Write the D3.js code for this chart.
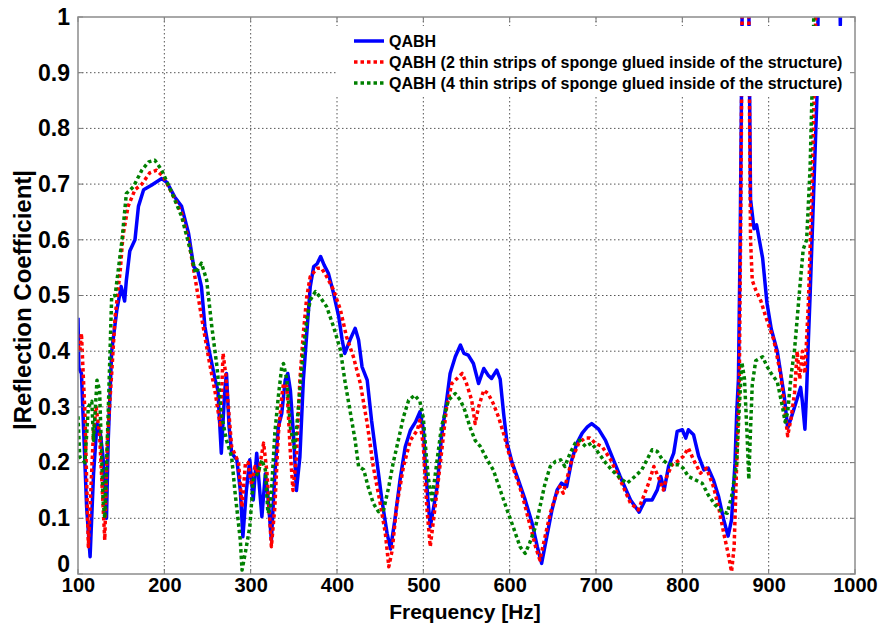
<!DOCTYPE html>
<html>
<head>
<meta charset="utf-8">
<script src="https://cdnjs.cloudflare.com/ajax/libs/d3/7.8.5/d3.min.js"></script>
<style>
  body { margin: 0; background: #fff; }
  text { font-family: "Liberation Sans", Arial, sans-serif; font-weight: bold; }
</style>
</head>
<body>
<div class="chart"></div>
<script>

// QABH (blue, solid)
var freqQabh = [100,101,104,107,110,114,118,122,126,129,133,135,139,145,150,154,156,160,166,170,176,185,197,203,212,220,228,234,239,243,247,251,259,262,266,270,272,275,278,284,288,291,295,299,303,307,311,313,317,320,324,328,332,336,340,343,346,350,353,357,361,365,369,373,377,381,385,390,396,402,406,409,415,421,425,429,435,440,446,452,458,462,467,473,479,485,491,496,500,502,505,508,512,516,521,527,531,537,543,547,552,558,564,570,575,579,585,589,593,597,603,610,618,626,632,637,643,649,655,660,666,672,678,684,690,695,703,711,717,728,740,750,757,765,771,775,779,784,790,794,800,804,807,813,819,825,830,836,842,848,853,857,861,863,865,867,869,870,876,878,879,883,886,888,893,898,903,910,918,922,926,930,937,939,942,944,946,948,952,956,958,962,980,983,985,1000];
var magQabh = [0.46,0.37,0.36,0.24,0.12,0.031,0.18,0.27,0.25,0.21,0.10,0.24,0.40,0.474,0.516,0.49,0.527,0.58,0.60,0.66,0.69,0.698,0.71,0.703,0.677,0.66,0.612,0.552,0.543,0.516,0.444,0.408,0.348,0.33,0.217,0.33,0.36,0.264,0.217,0.205,0.15,0.067,0.15,0.205,0.133,0.217,0.14,0.103,0.18,0.14,0.061,0.18,0.264,0.288,0.348,0.36,0.33,0.24,0.15,0.21,0.348,0.432,0.516,0.552,0.557,0.57,0.555,0.54,0.504,0.462,0.42,0.396,0.42,0.441,0.42,0.372,0.348,0.276,0.205,0.133,0.073,0.045,0.097,0.169,0.228,0.258,0.273,0.291,0.26,0.205,0.14,0.085,0.12,0.157,0.246,0.312,0.36,0.39,0.411,0.396,0.393,0.378,0.342,0.369,0.357,0.351,0.366,0.35,0.288,0.235,0.199,0.169,0.133,0.091,0.049,0.019,0.067,0.115,0.151,0.163,0.157,0.205,0.235,0.253,0.264,0.27,0.26,0.24,0.217,0.175,0.133,0.111,0.133,0.133,0.151,0.175,0.151,0.193,0.217,0.256,0.259,0.244,0.259,0.25,0.211,0.187,0.19,0.169,0.139,0.097,0.068,0.097,0.199,0.29,0.35,0.6,0.95,1.2,1.2,0.85,0.673,0.62,0.627,0.61,0.567,0.487,0.44,0.40,0.32,0.262,0.28,0.30,0.335,0.31,0.26,0.33,0.42,0.5,0.68,0.86,1.1,1.3,1.3,0.985,1.3,1.3];

// 2 thin strips of sponge (red, dotted)
var freqTwo = [100,102,104,106,108,112,114,118,121,125,131,134,139,143,149,152,158,166,174,183,191,199,209,220,228,236,243,251,259,265,268,271,278,286,290,294,297,301,305,309,315,319,324,328,332,336,338,342,346,349,353,357,361,365,369,377,382,388,396,404,411,419,427,435,442,450,456,460,464,469,477,485,493,496,500,504,508,512,516,521,527,533,539,545,550,556,560,564,570,575,581,587,593,599,606,614,622,630,635,641,647,653,658,662,666,672,680,687,693,699,707,717,728,740,749,755,761,767,772,778,782,788,794,801,807,813,821,828,836,842,848,853,857,860,863,866,868,870,876,878,879,881,885,891,897,906,914,922,926,930,933,936,939,942,946,950,954,956,1000];
var magTwo = [0.41,0.40,0.432,0.36,0.29,0.049,0.12,0.258,0.30,0.25,0.061,0.24,0.36,0.462,0.546,0.606,0.66,0.69,0.70,0.72,0.725,0.713,0.683,0.648,0.60,0.528,0.462,0.39,0.325,0.264,0.396,0.36,0.228,0.20,0.12,0.20,0.20,0.16,0.193,0.18,0.235,0.18,0.049,0.12,0.25,0.318,0.342,0.336,0.217,0.15,0.21,0.348,0.432,0.498,0.534,0.549,0.549,0.534,0.51,0.474,0.426,0.39,0.342,0.27,0.193,0.127,0.073,0.013,0.043,0.12,0.193,0.24,0.258,0.276,0.23,0.12,0.049,0.10,0.15,0.217,0.30,0.342,0.351,0.36,0.342,0.312,0.27,0.30,0.33,0.324,0.306,0.282,0.252,0.217,0.181,0.145,0.097,0.049,0.025,0.067,0.109,0.139,0.157,0.145,0.169,0.205,0.235,0.244,0.244,0.235,0.229,0.205,0.169,0.127,0.115,0.139,0.163,0.193,0.175,0.151,0.175,0.196,0.202,0.211,0.226,0.205,0.181,0.19,0.157,0.12,0.073,0.037,0.004,0.049,0.2,0.35,0.7,1.2,1.2,0.8,0.6,0.527,0.51,0.49,0.46,0.42,0.357,0.248,0.28,0.325,0.40,0.35,0.40,0.36,0.487,0.68,0.95,1.2,1.2];

// 4 thin strips of sponge (green, dotted)
var freqFour = [100,102,108,112,116,118,122,125,129,131,135,139,143,151,156,164,174,182,189,197,209,220,230,236,243,249,255,261,266,272,278,282,288,290,294,299,303,308,313,317,320,323,328,332,336,338,342,346,351,357,361,365,369,375,380,388,396,404,409,415,421,425,431,436,442,448,454,460,465,471,477,483,490,496,500,503,506,510,516,521,529,537,543,548,554,560,566,574,581,589,597,604,612,618,623,630,635,641,647,653,659,664,670,676,681,688,695,703,711,718,728,736,745,753,759,765,771,777,782,788,796,801,807,815,823,830,838,846,852,857,863,866,869,872,875,877,879,881,885,893,898,903,910,916,919,922,926,930,936,940,944,948,950,952,954,1000];
var magFour = [0.283,0.21,0.20,0.30,0.31,0.24,0.348,0.33,0.133,0.10,0.29,0.498,0.50,0.60,0.683,0.695,0.725,0.74,0.743,0.725,0.683,0.642,0.582,0.54,0.558,0.528,0.444,0.372,0.288,0.24,0.21,0.145,0.061,0.007,0.04,0.085,0.169,0.18,0.205,0.187,0.109,0.12,0.253,0.318,0.372,0.378,0.348,0.264,0.222,0.33,0.402,0.456,0.492,0.507,0.498,0.48,0.444,0.402,0.348,0.294,0.24,0.193,0.187,0.157,0.127,0.112,0.115,0.157,0.199,0.24,0.282,0.312,0.321,0.31,0.28,0.22,0.17,0.133,0.205,0.264,0.312,0.324,0.312,0.294,0.264,0.24,0.229,0.205,0.187,0.151,0.115,0.085,0.049,0.037,0.055,0.085,0.12,0.163,0.193,0.202,0.205,0.193,0.217,0.235,0.24,0.229,0.235,0.217,0.2,0.187,0.172,0.163,0.175,0.187,0.205,0.223,0.22,0.205,0.199,0.196,0.196,0.19,0.175,0.169,0.163,0.142,0.124,0.112,0.109,0.139,0.199,0.3,0.38,0.35,0.25,0.17,0.26,0.34,0.383,0.39,0.373,0.36,0.345,0.30,0.273,0.29,0.357,0.403,0.513,0.583,0.6,0.73,0.85,0.98,1.2,1.2];

var xTicks = [100,200,300,400,500,600,700,800,900,1000];
var yTicks = [0,0.1,0.2,0.3,0.4,0.5,0.6,0.7,0.8,0.9,1];
var seriesNames = ["QABH",
	"QABH (2 thin strips of sponge glued inside of the structure)",
	"QABH (4 thin strips of sponge glued inside of the structure)"];

var width = 886, height = 624;
var plot = {left: 78, right: 855, top: 17, bottom: 574};

var svg = d3.select(".chart")
	.append("svg")
	.attr("width", width)
	.attr("height", height);

var x = d3.scaleLinear().domain([100, 1000]).range([plot.left, plot.right]);
var y = d3.scaleLinear().domain([0, 1]).range([plot.bottom, plot.top]);

// grid
var grid = svg.append("g").attr("class", "grid");
grid.selectAll("line.vx")
	.data(xTicks.slice(1, -1))
	.enter().append("line")
		.attr("x1", function(d){ return x(d); })
		.attr("x2", function(d){ return x(d); })
		.attr("y1", plot.top)
		.attr("y2", plot.bottom)
		.attr("stroke", "#555")
		.attr("stroke-width", 1)
		.attr("stroke-dasharray", "1.5,2.5");
grid.selectAll("line.hy")
	.data(yTicks.slice(1, -1))
	.enter().append("line")
		.attr("x1", plot.left)
		.attr("x2", plot.right)
		.attr("y1", function(d){ return y(d); })
		.attr("y2", function(d){ return y(d); })
		.attr("stroke", "#555")
		.attr("stroke-width", 1)
		.attr("stroke-dasharray", "1.5,2.5");

svg.append("clipPath").attr("id", "plotClip")
	.append("rect")
		.attr("x", plot.left)
		.attr("y", plot.top)
		.attr("width", plot.right - plot.left)
		.attr("height", plot.bottom - plot.top);

var series = [
	{name: seriesNames[0], freq: freqQabh, mag: magQabh, color: "#0000ff", dash: null},
	{name: seriesNames[1], freq: freqTwo, mag: magTwo, color: "#ff0000", dash: "3.5,3"},
	{name: seriesNames[2], freq: freqFour, mag: magFour, color: "#008000", dash: "3.5,3"}
];

var line = d3.line()
	.x(function(d){ return x(d[0]); })
	.y(function(d){ return y(d[1]); });

var curves = svg.append("g").attr("clip-path", "url(#plotClip)");
curves.selectAll("path")
	.data(series)
	.enter().append("path")
		.attr("d", function(s){ return line(d3.zip(s.freq, s.mag)); })
		.attr("fill", "none")
		.attr("stroke", function(s){ return s.color; })
		.attr("stroke-width", 3.5)
		.attr("stroke-linejoin", "round")
		.attr("stroke-dasharray", function(s){ return s.dash; });

// legend (white box, no edge)
var legend = svg.append("g");
legend.append("rect")
	.attr("x", 336)
	.attr("y", 26)
	.attr("width", plot.right - 336)
	.attr("height", 70)
	.attr("fill", "#fff");

var items = legend.selectAll("g.item")
	.data(series)
	.enter().append("g")
		.attr("transform", function(d, i){ return "translate(0," + (41 + i*21) + ")"; });
items.append("line")
	.attr("x1", 354).attr("x2", 384)
	.attr("y1", 0).attr("y2", 0)
	.attr("stroke", function(s){ return s.color; })
	.attr("stroke-width", 3.5)
	.attr("stroke-dasharray", function(s){ return s.dash; });
items.append("text")
	.attr("x", 389)
	.attr("y", 0)
	.attr("dy", "0.35em")
	.attr("font-size", 16)
	.text(function(s){ return s.name; });

// axes
var xAxis = d3.axisBottom(x).tickValues(xTicks).tickSize(0).tickPadding(4).tickFormat(d3.format("d"));
var yAxis = d3.axisLeft(y).tickValues(yTicks).tickSize(0).tickPadding(8)
	.tickFormat(function(d){ return d === 0 || d === 1 ? d3.format("d")(d) : d3.format(".1f")(d); });

var gx = svg.append("g").attr("transform", "translate(0," + plot.bottom + ")").call(xAxis);
var gy = svg.append("g").attr("transform", "translate(" + plot.left + ",0)").call(yAxis);
[gx, gy].forEach(function(g, i){
	g.select(".domain").remove();
	g.selectAll("text").attr("font-size", i === 0 ? 20 : 23).attr("fill", "#000")
		.style("font-family", "'Liberation Sans', Arial, sans-serif").style("font-weight", "bold");
});
// lift the 0 label a little so it clears the 100 below it
gy.selectAll(".tick").filter(function(d){ return d === 0; }).select("text").attr("dy", "-0.12em");

// tick marks inside the frame
var tickLen = 5;
var ticks = svg.append("g").attr("stroke", "#777").attr("stroke-width", 1);
xTicks.forEach(function(d){
	ticks.append("line").attr("x1", x(d)).attr("x2", x(d)).attr("y1", plot.bottom).attr("y2", plot.bottom - tickLen);
	ticks.append("line").attr("x1", x(d)).attr("x2", x(d)).attr("y1", plot.top).attr("y2", plot.top + tickLen);
});
yTicks.forEach(function(d){
	ticks.append("line").attr("x1", plot.left).attr("x2", plot.left + tickLen).attr("y1", y(d)).attr("y2", y(d));
	ticks.append("line").attr("x1", plot.right).attr("x2", plot.right - tickLen).attr("y1", y(d)).attr("y2", y(d));
});

svg.append("rect")
	.attr("x", plot.left)
	.attr("y", plot.top)
	.attr("width", plot.right - plot.left)
	.attr("height", plot.bottom - plot.top)
	.attr("fill", "none")
	.attr("stroke", "#8c8c8c")
	.attr("stroke-width", 1.5);

svg.append("text")
	.attr("x", 465)
	.attr("y", 619)
	.attr("text-anchor", "middle")
	.attr("font-size", 21)
	.text("Frequency [Hz]");

svg.append("text")
	.attr("transform", "translate(31,300) rotate(-90)")
	.attr("text-anchor", "middle")
	.attr("font-size", 24)
	.text("|Reflection Coefficient|");

</script>
</body>
</html>
